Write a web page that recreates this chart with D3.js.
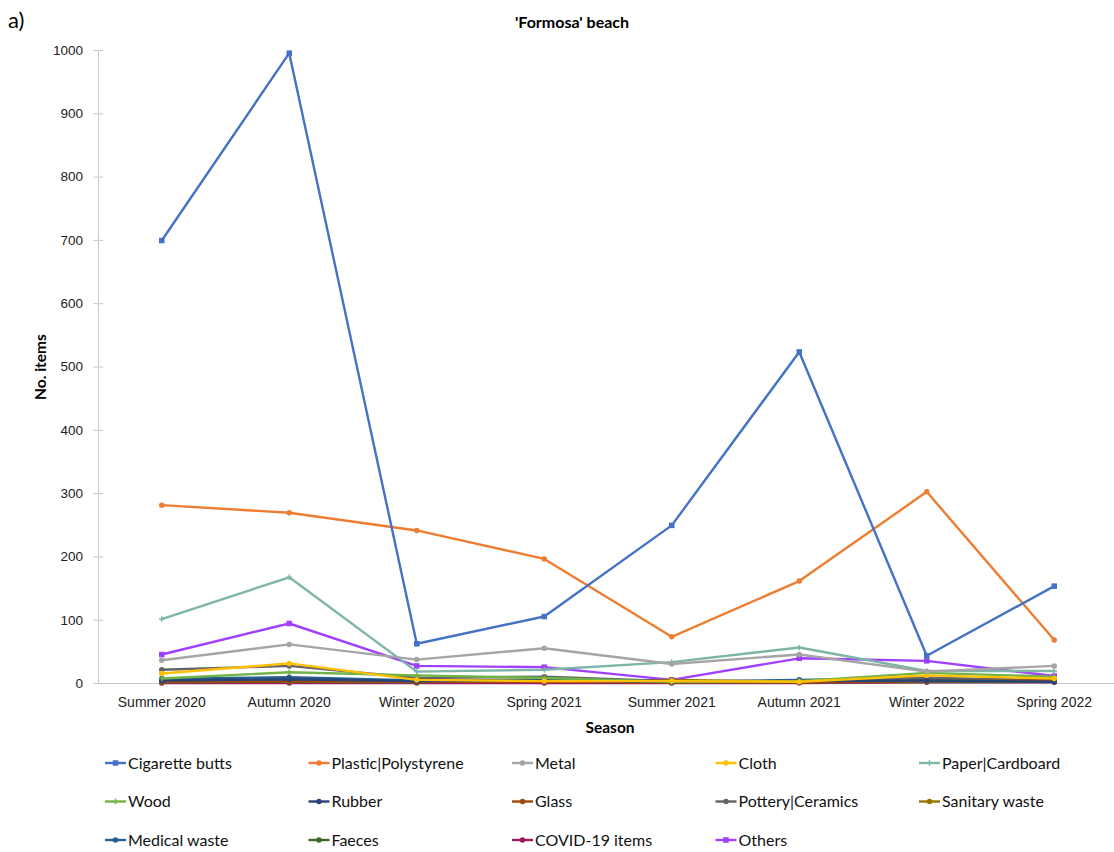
<!DOCTYPE html>
<html lang="en">
<head>
  <meta charset="UTF-8">
  <title>'Formosa' beach - Line Chart</title>
  <script src="https://d3js.org/d3.v7.min.js"></script>
  <style>
    body {
      margin: 0;
      background: #fff;
      font-family: Lato, "Open Sans", Arial, sans-serif;
    }
    .line {
      fill: none;
      stroke-width: 2.4;
      stroke-linejoin: round;
    }
    .axis path,
    .axis line {
      stroke: #c8c8c8;
    }
    .axis text {
      font-size: 14px;
      fill: #222;
    }
    .legend text {
      font-size: 16px;
      fill: #111;
    }
  </style>
</head>
<body>
  <div id="chart"></div>
  <script>
    const seasons = ["Summer 2020", "Autumn 2020", "Winter 2020", "Spring 2021",
      "Summer 2021", "Autumn 2021", "Winter 2022", "Spring 2022"];
    const yTicks = [0, 100, 200, 300, 400, 500, 600, 700, 800, 900, 1000];

    const cigaretteButts = [699, 995, 62, 105, 249, 523, 43, 153];
    const plastic = [281, 269, 241, 196, 73, 161, 302, 68];
    const metal = [36, 61, 37, 55, 30, 45, 18, 27];
    const cloth = [15, 31, 5, 3, 3, 2, 12, 7];
    const paper = [101, 167, 18, 21, 33, 56, 19, 19];
    const wood = [7, 17, 12, 8, 2, 3, 16, 10];
    const rubber = [4, 6, 3, 4, 2, 3, 4, 2];
    const glass = [2, 3, 2, 2, 1, 1, 3, 4];
    const pottery = [21, 27, 8, 10, 3, 3, 8, 4];
    const sanitary = [3, 3, 2, 3, 5, 2, 5, 5];
    const medical = [7, 9, 4, 5, 2, 5, 8, 3];
    const faeces = [1, 2, 1, 6, 1, 1, 2, 2];
    const covid = [0, 0, 0, 0, 0, 0, 1, 1];
    const others = [45, 94, 27, 25, 5, 39, 35, 11];

    const seriesNames = ["Cigarette butts", "Plastic|Polystyrene", "Metal", "Cloth", "Paper|Cardboard",
      "Wood", "Rubber", "Glass", "Pottery|Ceramics", "Sanitary waste",
      "Medical waste", "Faeces", "COVID-19 items", "Others"];
    const seriesValues = [cigaretteButts, plastic, metal, cloth, paper, wood, rubber, glass,
      pottery, sanitary, medical, faeces, covid, others];
    const seriesColors = ["#4472C4", "#ED7D31", "#A5A5A5", "#FFC000", "#7DB5A8", "#70B347", "#264478",
      "#9E480E", "#636363", "#997300", "#255E91", "#43682B", "#A01A5E", "#A040FF"];
    const seriesMarkers = ["square", "circle", "circle", "circle", "plus", "plus", "circle",
      "circle", "circle", "circle", "circle", "circle", "circle", "square"];

    const series = seriesNames.map((name, i) => ({
      name: name,
      color: seriesColors[i],
      marker: seriesMarkers[i],
      values: seriesValues[i].map((v, j) => ({ season: seasons[j], value: v }))
    }));

    const svgWidth = 1114;
    const svgHeight = 852;
    const margin = { top: 50, right: -4, bottom: 169, left: 98 };
    const width = svgWidth - margin.left - margin.right;
    const height = svgHeight - margin.top - margin.bottom;

    const xScale = d3.scaleBand()
      .domain(seasons)
      .range([0, width]);

    const yScale = d3.scaleLinear()
      .domain([0, 1000])
      .range([height, 0]);

    const line = d3.line()
      .x(d => xScale(d.season) + xScale.bandwidth() / 2)
      .y(d => yScale(d.value));

    const root = d3.select("#chart").append("svg")
      .attr("width", svgWidth)
      .attr("height", svgHeight);

    const svg = root.append("g")
      .attr("transform", `translate(${margin.left},${margin.top})`);

    // y axis, ticks crossing the line
    const yAxis = svg.append("g")
      .attr("class", "axis")
      .call(d3.axisLeft(yScale).tickValues(yTicks).tickFormat(d3.format("d"))
        .tickSize(5).tickPadding(10).tickSizeOuter(0));
    yAxis.selectAll(".tick line").attr("x2", 5).attr("x1", -5);
    yAxis.selectAll(".tick text").style("font-size", "13.5px");

    // x axis
    svg.append("g")
      .attr("class", "axis")
      .attr("transform", `translate(0,${height})`)
      .call(d3.axisBottom(xScale).tickSize(0).tickPadding(14));

    // lines
    const groups = svg.selectAll(".series")
      .data(series.slice().reverse())
      .enter()
      .append("g")
      .attr("class", "series");

    groups.append("path")
      .attr("class", "line")
      .attr("stroke", d => d.color)
      .attr("d", d => line(d.values));

    function drawMarker(sel, type, color, size) {
      if (type === "square") {
        sel.append("rect")
          .attr("x", -size / 2).attr("y", -size / 2)
          .attr("width", size).attr("height", size)
          .attr("fill", color);
      } else if (type === "plus") {
        sel.append("path")
          .attr("d", `M${-size / 2},0H${size / 2}M0,${-size / 2}V${size / 2}`)
          .attr("stroke", color)
          .attr("stroke-width", 1.5);
      } else {
        sel.append("circle")
          .attr("r", size / 2)
          .attr("fill", color);
      }
    }

    groups.each(function(s) {
      const g = d3.select(this);
      s.values.forEach(d => {
        const m = g.append("g")
          .attr("transform", `translate(${xScale(d.season) + xScale.bandwidth() / 2},${yScale(d.value)})`);
        drawMarker(m, s.marker, s.color, 5.5);
      });
    });

    // title and labels
    root.append("text")
      .attr("x", 572)
      .attr("y", 28)
      .attr("text-anchor", "middle")
      .style("font-size", "16px")
      .style("font-weight", "bold")
      .text("'Formosa' beach");

    root.append("text")
      .attr("x", 8)
      .attr("y", 28)
      .style("font-size", "22px")
      .text("a)");

    root.append("text")
      .attr("x", 610)
      .attr("y", 733)
      .attr("text-anchor", "middle")
      .style("font-size", "15.5px")
      .style("font-weight", "bold")
      .text("Season");

    root.append("text")
      .attr("transform", "rotate(-90)")
      .attr("x", -367)
      .attr("y", 46)
      .attr("text-anchor", "middle")
      .style("font-size", "15.5px")
      .style("font-weight", "bold")
      .text("No. items");

    // legend: 5 columns
    const legend = root.append("g").attr("class", "legend");
    const items = legend.selectAll(".item")
      .data(series)
      .enter()
      .append("g")
      .attr("class", "item")
      .attr("transform", (d, i) => `translate(${105 + (i % 5) * 203.5},${763 + Math.floor(i / 5) * 38.5})`);

    items.append("line")
      .attr("x1", 0).attr("x2", 21)
      .attr("stroke", d => d.color)
      .attr("stroke-width", 2.4);

    items.each(function(d) {
      const m = d3.select(this).append("g").attr("transform", "translate(10.5,0)");
      drawMarker(m, d.marker, d.color, 5.5);
    });

    items.append("text")
      .attr("x", 23)
      .attr("dy", "0.35em")
      .text(d => d.name);
  </script>
</body>
</html>
